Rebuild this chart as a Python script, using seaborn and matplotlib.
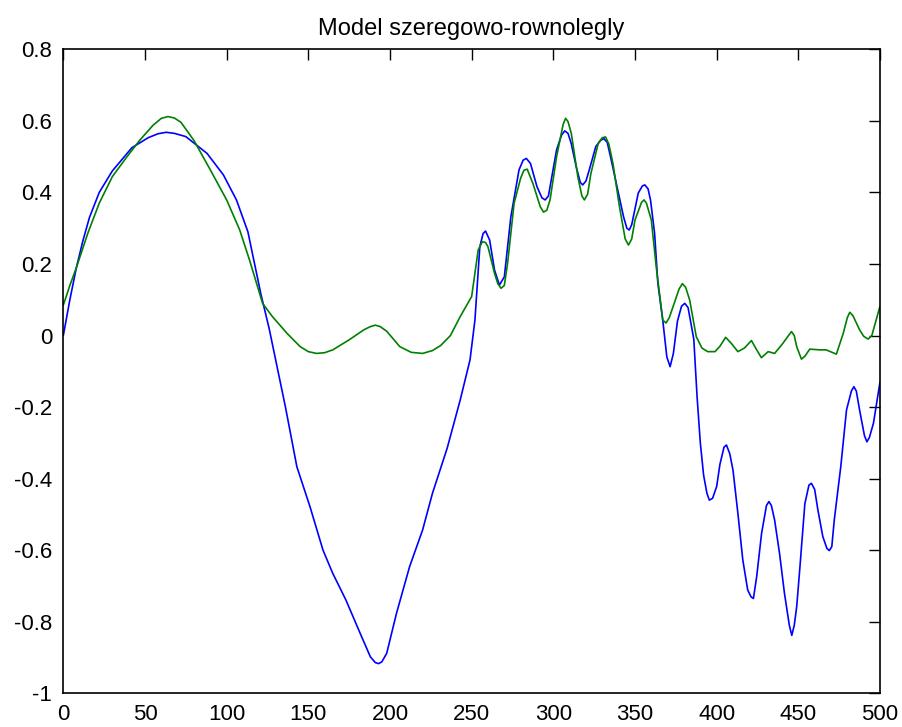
import matplotlib
matplotlib.use("Agg")
import matplotlib.pyplot as plt
import matplotlib.ticker as mticker
import seaborn as sns
import pandas as pd

title = "Model szeregowo-rownolegly"

blue_x = [0, 4, 8, 12, 16, 22, 30, 42, 52, 58, 63, 68, 75, 88, 98, 106, 113, 121, 126, 131, 136,
          143, 151, 159, 165, 173, 182, 188, 191, 193, 195, 198, 204, 212, 220, 226, 235, 243, 249, 252,
          255, 257, 258.5, 261, 264, 267, 270, 274, 279, 281.5, 283.5, 286, 290, 293, 295, 297, 302, 305, 307, 309,
          311, 314, 316.5, 318, 320, 322, 326, 329, 331, 333, 335, 339, 343, 345, 346.5, 348, 352, 354.5, 356, 358,
          359.5, 362, 364, 367, 369.5, 371.5, 373.5, 376, 378.5, 380.5, 382.5, 384, 386, 388, 390, 392, 394, 395.5, 397.5,
          400, 402, 404.5, 406, 408, 410, 413, 416, 419, 421, 422.5, 424.5, 427.5, 430.5, 432, 433.5, 435.5, 438.5,
          441.5, 444.5, 446, 447.5, 449, 451, 454, 456.5, 458, 460, 462, 465, 467.5, 469, 470.5, 472, 476,
          479.5, 482.5, 484, 485.5, 487.5, 490.5, 492, 493.5, 496, 500]
blue_y = [0.0, 0.10, 0.19, 0.265, 0.33, 0.40, 0.46, 0.525, 0.553, 0.564, 0.568, 0.565, 0.556, 0.509,
          0.449, 0.379, 0.29, 0.115, 0.02, -0.09, -0.2, -0.367, -0.478, -0.6, -0.665, -0.739,
          -0.835, -0.898, -0.914, -0.917, -0.912, -0.888, -0.776, -0.646, -0.543, -0.441, -0.315, -0.18, -0.068,
          0.043, 0.248, 0.285, 0.292, 0.267, 0.183, 0.141, 0.164, 0.332, 0.463, 0.49, 0.495, 0.481, 0.416, 0.385,
          0.379, 0.39, 0.519, 0.56, 0.572, 0.565, 0.536, 0.472, 0.428, 0.421, 0.432, 0.463, 0.528, 0.546, 0.55,
          0.54, 0.5, 0.416, 0.332, 0.3, 0.295, 0.31, 0.398, 0.418, 0.421, 0.41, 0.379, 0.286, 0.146, 0.043,
          -0.06, -0.087, -0.05, 0.04, 0.082, 0.09, 0.078, 0.04, -0.01, -0.17, -0.3, -0.39, -0.44, -0.46, -0.455,
          -0.422, -0.36, -0.312, -0.306, -0.33, -0.376, -0.497, -0.627, -0.711, -0.73, -0.735, -0.674, -0.553, -0.475,
          -0.464, -0.475, -0.516, -0.609, -0.72, -0.81, -0.838, -0.81, -0.758, -0.646, -0.47, -0.418, -0.413,
          -0.43, -0.488, -0.562, -0.595, -0.601, -0.59, -0.516, -0.366, -0.208, -0.155, -0.143, -0.155, -0.208,
          -0.28, -0.297, -0.285, -0.245, -0.13]

green_x = [0, 4, 8, 15, 22, 30, 39, 47, 55, 60, 64, 68, 72, 80, 90, 100, 108, 114, 122, 128,
           137, 145, 150, 155, 160, 165, 175, 184, 188, 191, 194, 198, 206, 213, 220, 226, 231, 237, 243,
           250, 254, 256.5, 258.5, 260, 264, 266, 268, 270, 272, 276, 280, 282, 284, 287.5, 292, 294, 296, 298, 302, 306, 307.5, 309,
           311, 315, 317.5, 319, 321, 323, 327.5, 330, 332, 334, 336.5, 340.5, 344, 346, 348, 350, 354, 355.5, 357, 360, 363, 367, 369,
           371, 374, 377, 379, 381, 383.5, 387.5, 391, 394.5, 399, 402, 405.5, 409, 413, 417, 421.3, 424.5, 427.4, 431.5, 435.5,
           440.5, 444, 445.8, 447.5, 449, 451.9, 454, 457, 463, 467, 473.3, 477.5, 480, 481.5, 483.5, 487.5, 490, 492.7, 495, 500]
green_y = [0.085, 0.14, 0.19, 0.286, 0.37, 0.444, 0.5, 0.547, 0.588, 0.607, 0.612, 0.608, 0.596,
           0.545, 0.463, 0.379, 0.295, 0.211, 0.09, 0.053, 0.006, -0.031, -0.045, -0.05, -0.048, -0.04,
           -0.012, 0.016, 0.025, 0.029, 0.025, 0.012, -0.031, -0.047, -0.05, -0.042, -0.028, 0.0, 0.053,
           0.109, 0.239, 0.262, 0.26, 0.248, 0.174, 0.145, 0.132, 0.14, 0.202, 0.37, 0.44, 0.462, 0.465, 0.425, 0.36, 0.345,
           0.35, 0.379, 0.5, 0.59, 0.607, 0.598, 0.565, 0.444, 0.39, 0.379, 0.395, 0.453, 0.537, 0.553, 0.555,
           0.535, 0.481, 0.36, 0.27, 0.253, 0.27, 0.323, 0.372, 0.379, 0.37, 0.323, 0.192, 0.043, 0.035,
           0.05, 0.09, 0.13, 0.145, 0.135, 0.099, -0.003, -0.035, -0.045, -0.045, -0.03, -0.005, -0.022, -0.045,
           -0.035, -0.014, -0.04, -0.062, -0.045, -0.05, -0.022, 0.0, 0.011, 0.0, -0.031, -0.066, -0.058,
           -0.038, -0.04, -0.04, -0.052, 0.006, 0.05, 0.065, 0.055, 0.016, -0.002, -0.01, 0.0, 0.082]

x_ticks = [0, 50, 100, 150, 200, 250, 300, 350, 400, 450, 500]
y_ticks = [-1, -0.8, -0.6, -0.4, -0.2, 0, 0.2, 0.4, 0.6, 0.8]

sns.set_style("white")
plt.rcParams['font.family'] = ['Liberation Sans', 'DejaVu Sans']
plt.rcParams['text.color'] = 'black'

fig = plt.figure(figsize=(9.02, 7.27), dpi=100)
ax = fig.add_axes([0.0702, 0.0463, 0.9054, 0.8859])

df_b = pd.DataFrame({"x": blue_x, "y": blue_y})
df_g = pd.DataFrame({"x": green_x, "y": green_y})
sns.lineplot(data=df_b, x="x", y="y", ax=ax, color=(0, 0, 1), linewidth=1.2, sort=False)
sns.lineplot(data=df_g, x="x", y="y", ax=ax, color=(0, 0.5, 0), linewidth=1.2, sort=False)

ax.set_xlim(0, 500)
ax.set_ylim(-1, 0.8)
ax.set_xticks(x_ticks)
ax.set_yticks(y_ticks)
ax.xaxis.set_major_formatter(mticker.FuncFormatter(lambda v, p: f"{v:g}"))
ax.yaxis.set_major_formatter(mticker.FuncFormatter(lambda v, p: f"{v:g}"))
ax.tick_params(direction="in", length=8, width=1, top=True, right=True,
               labelsize=16, colors="black", pad=8)
ax.set_xlabel("")
ax.set_ylabel("")
for s in ax.spines.values():
    s.set_visible(True)
    s.set_color("black")
    s.set_linewidth(1.2)
ax.set_title(title, fontsize=17, pad=10, color="black")

fig.savefig("out.png", dpi=100)
